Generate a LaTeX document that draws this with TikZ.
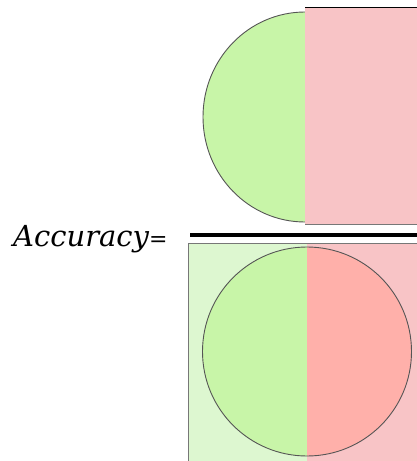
\documentclass[tikz,border=0pt]{standalone}
\usepackage{fontspec}
\newfontfamily\lblfont{DejaVu Serif}
\definecolor{cgreen}{HTML}{C8F5A8}
\definecolor{cpink}{HTML}{F8C4C6}
\definecolor{clight}{HTML}{DDF7D0}
\definecolor{csalmon}{HTML}{FFB0AA}
\definecolor{cedge}{HTML}{555555}
\begin{document}
\begin{tikzpicture}[x=1pt,y=-1pt,
  edge/.style={draw=cedge,line width=0.9pt}]
\useasboundingbox (0,0) rectangle (417,461);
% top numerator
\fill[cgreen] (305,12) arc[start angle=270,end angle=90,x radius=102,y radius=105] -- cycle;
\draw[edge] (305,12) arc[start angle=270,end angle=90,x radius=102,y radius=105];
\fill[cpink] (305,7) rectangle (417,224);
\draw[black,line width=0.9pt] (305,7) -- (417,7);
\draw[cedge!80,line width=0.9pt] (305,224) -- (417,224);
% fraction bar
\draw[black,line width=4pt] (190,235) -- (417,235);
% denominator
\fill[clight] (188,243) rectangle (307,461);
\fill[cpink] (307,243) rectangle (417,461);
\draw[edge,cedge!80] (188,461) -- (188,243) -- (417,243);
\fill[cgreen] (307,247) arc[start angle=270,end angle=90,radius=104.5] -- cycle;
\fill[csalmon] (307,247) arc[start angle=-90,end angle=90,radius=104.5] -- cycle;
\draw[edge] (307,351.5) circle[radius=104.5];
% label
\node[anchor=base west,inner sep=0pt] (lbl) at (13,246)
  {\lblfont\fontsize{29}{34}\selectfont\itshape Accuracy\upshape\fontsize{22}{26}\selectfont=};
\end{tikzpicture}
\end{document}
